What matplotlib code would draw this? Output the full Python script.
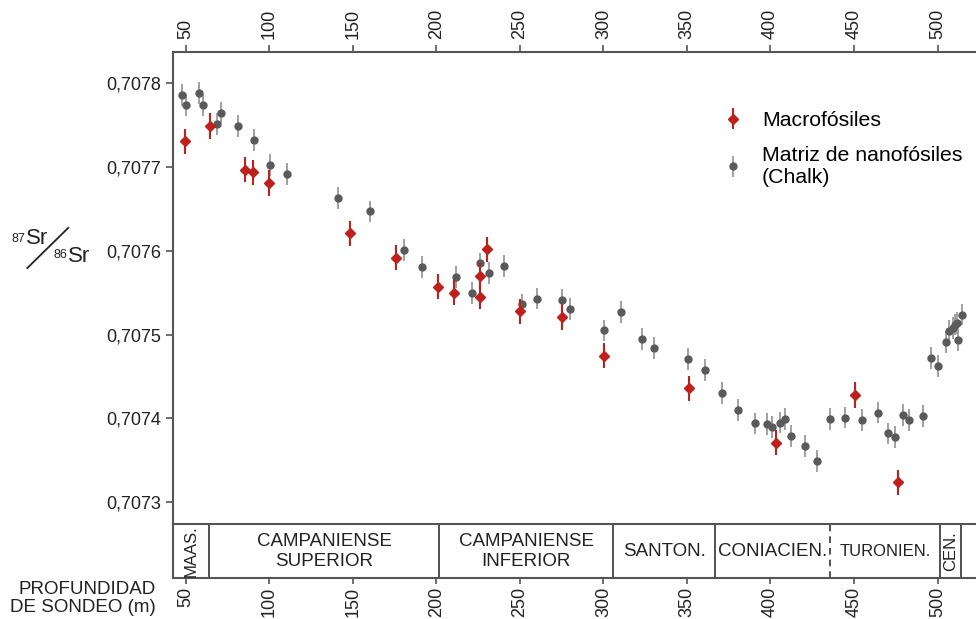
import numpy as np
import matplotlib.pyplot as plt
from matplotlib.ticker import FuncFormatter

plt.rcParams['font.family'] = ['Liberation Sans', 'DejaVu Sans']

# profundidad (m) y 87Sr/86Sr, matriz de nanofósiles (chalk)
chalk_depth = [47.6, 50.2, 58.0, 60.4, 68.5, 71.3, 81.1, 90.7, 100.4, 110.8,
               141.0, 160.5, 180.8, 191.6, 211.6, 221.3, 226.1, 231.3, 240.3,
               251.1, 260.4, 275.2, 280.2, 300.3, 310.3, 323.1, 330.4, 350.6,
               361.0, 370.8, 380.5, 390.9, 397.7, 400.7, 405.7, 408.5, 412.1,
               420.4, 428.0, 435.4, 444.6, 454.8, 464.5, 470.5, 474.7, 479.4,
               483.0, 491.4, 496.2, 500.2, 505.2, 507.0, 509.0, 510.4, 511.4,
               512.2, 514.4]
chalk_sr = [0.707786, 0.707774, 0.707788, 0.707774, 0.707751, 0.707765,
            0.707749, 0.707732, 0.707702, 0.707692, 0.707663, 0.707647,
            0.707601, 0.707581, 0.707569, 0.707550, 0.707585, 0.707574,
            0.707582, 0.707536, 0.707543, 0.707541, 0.707531, 0.707505,
            0.707527, 0.707495, 0.707484, 0.707471, 0.707458, 0.707430,
            0.707410, 0.707394, 0.707393, 0.707390, 0.707395, 0.707399,
            0.707379, 0.707367, 0.707349, 0.707399, 0.707401, 0.707398,
            0.707407, 0.707382, 0.707378, 0.707404, 0.707398, 0.707403,
            0.707472, 0.707463, 0.707491, 0.707504, 0.707508, 0.707512,
            0.707514, 0.707494, 0.707524]
chalk_err = 0.000013

# macrofósiles
macro_depth = [49.8, 64.7, 85.3, 90.1, 100.1, 148.5, 175.9, 200.8, 210.7,
               226.1, 226.1, 230.3, 249.9, 275.2, 300.3, 351.0, 403.1, 450.7,
               476.1]
macro_sr = [0.707731, 0.707749, 0.707697, 0.707694, 0.707681, 0.707621,
            0.707592, 0.707557, 0.707550, 0.707570, 0.707545, 0.707602,
            0.707528, 0.707521, 0.707475, 0.707436, 0.707371, 0.707428,
            0.707324]
macro_err = 0.000015

# pisos estratigráficos (límites en m)
stage_names = ['MAAS.', 'CAMPANIENSE\nSUPERIOR', 'CAMPANIENSE\nINFERIOR',
               'SANTON.', 'CONIACIEN.', 'TURONIEN.', 'CEN.']
stage_bounds = [42.6, 63.8, 201.8, 306.0, 367.0, 435.6, 501.6, 514.0]
stage_vertical = [True, False, False, False, False, False, True]
stage_dashed_right = [False, False, False, False, True, False, False]

depth_ticks = [50, 100, 150, 200, 250, 300, 350, 400, 450, 500]
sr_ticks = [0.7073, 0.7074, 0.7075, 0.7076, 0.7077, 0.7078]

xmin, xmax = 42.6, 523.0
spine_c = '#555555'
red = '#c0201c'

fig = plt.figure(figsize=(9.76, 6.19), dpi=100)
ax = fig.add_axes([0.1776, 0.1535, 1.0 - 0.1776, 0.9165 - 0.1535])
axs = fig.add_axes([0.1776, 0.0658, 1.0 - 0.1776, 0.0877])

ax.errorbar(chalk_depth, chalk_sr, yerr=chalk_err, fmt='o', ms=5,
            color='#5a5a5a', ecolor='#9a9a9a', elinewidth=1.3, capsize=0,
            label='Matriz de nanofósiles\n(Chalk)', zorder=3)
ax.errorbar(macro_depth, macro_sr, yerr=macro_err, fmt='D', ms=5.5,
            color=red, ecolor=red, elinewidth=1.5, capsize=0,
            label='Macrofósiles', zorder=4)

ax.set_xlim(xmin, xmax)
ax.set_ylim(0.707274, 0.7078377)
ax.xaxis.tick_top()
ax.set_xticks(depth_ticks)
ax.set_xticklabels([str(t) for t in depth_ticks], rotation=90)
ax.set_yticks(sr_ticks)
ax.yaxis.set_major_formatter(FuncFormatter(lambda v, p: f'{v:.4f}'.replace('.', ',')))
ax.tick_params(axis='both', labelsize=13, color=spine_c, length=5, width=1.2,
               labelcolor='#222222', pad=4)
for s in ['right', 'bottom']:
    ax.spines[s].set_visible(False)
for s in ['left', 'top']:
    ax.spines[s].set_color(spine_c)
    ax.spines[s].set_linewidth(1.5)

handles, labels = ax.get_legend_handles_labels()
leg = ax.legend(handles[::-1], labels[::-1], loc='upper left',
                bbox_to_anchor=(0.662, 0.915), frameon=False, fontsize=15.3,
                handletextpad=0.9, labelspacing=0.75, handlelength=0.9)

# barra de pisos
axs.set_xlim(xmin, xmax)
axs.set_ylim(0, 1)
axs.set_yticks([])
axs.set_xticks(depth_ticks)
axs.set_xticklabels([str(t) for t in depth_ticks], rotation=90)
axs.tick_params(axis='x', labelsize=13, color=spine_c, length=4, width=1.2,
                labelcolor='#222222', pad=2)
for s in ['left', 'top', 'bottom']:
    axs.spines[s].set_color(spine_c)
    axs.spines[s].set_linewidth(1.5)
axs.spines['right'].set_visible(False)

for i, name in enumerate(stage_names):
    left, right = stage_bounds[i], stage_bounds[i + 1]
    axs.axvline(right, color='#333333',
                lw=1.2, ls=(0, (4, 3)) if stage_dashed_right[i] else '-')
    xc = (left + right) / 2
    if stage_vertical[i]:
        axs.text(xc, 0.5, name, rotation=90, ha='center', va='center',
                 fontsize=12, color='#222222')
    else:
        fs = 12 if name == 'TURONIEN.' else 13.5
        axs.text(xc, 0.5, name, ha='center', va='center', fontsize=fs,
                 color='#222222', linespacing=1.25)

fig.text(0.16, 0.033, 'PROFUNDIDAD\nDE SONDEO (m)', ha='right', va='center',
         fontsize=13.5, color='#222222', linespacing=1.1)

# etiqueta del eje y: 87Sr / 86Sr
fig.text(0.012, 0.605, '87', fontsize=9, color='#222222', va='bottom')
fig.text(0.027, 0.597, 'Sr', fontsize=16, color='#222222', va='bottom')
fig.add_artist(plt.Line2D([0.028, 0.070], [0.567, 0.632], color='#222222',
                          lw=1.3, transform=fig.transFigure))
fig.text(0.055, 0.578, '86', fontsize=9, color='#222222', va='bottom')
fig.text(0.070, 0.569, 'Sr', fontsize=16, color='#222222', va='bottom')

fig.savefig('out.png', dpi=100)
